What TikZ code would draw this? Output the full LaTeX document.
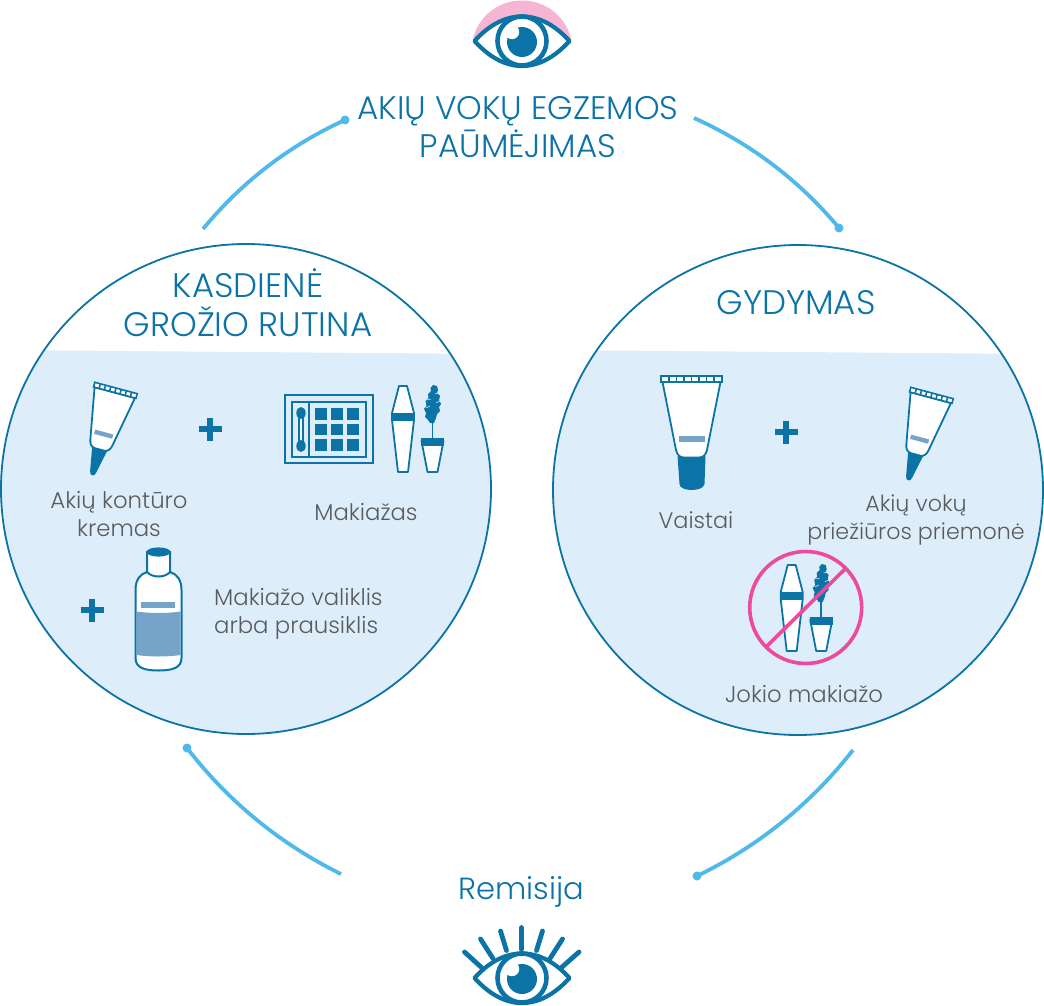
\documentclass[tikz,border=0pt]{standalone}
\usepackage{fontspec}
\setmainfont{Poppins Light}
\definecolor{dblue}{HTML}{0B73A6}
\definecolor{arcblue}{HTML}{4FB9EA}
\definecolor{pale}{HTML}{DDEEFA}
\definecolor{midb}{HTML}{76A3C9}
\definecolor{txtg}{HTML}{5A5B5E}
\definecolor{pinkl}{HTML}{F6B6D3}
\definecolor{pinkd}{HTML}{EC4B9B}
\tikzset{
  big/.style={draw=dblue,line width=1.8pt},
  arcline/.style={draw=arcblue,line width=3.8pt},
  dot/.style={circle,fill=arcblue,inner sep=0pt,minimum size=9pt},
  ttl/.style={text=dblue,font=\fontsize{32.6}{37.5}\selectfont,align=center,inner sep=0pt},
  ttlb/.style={text=dblue,font=\fontsize{34}{39}\selectfont,align=center,inner sep=0pt},
  lab/.style={text=txtg,font=\fontsize{22.8}{28}\selectfont,align=center,inner sep=0pt},
  lnk/.style={bend left=13,looseness=.87},
  tube/.pic={
    \fill[dblue] (-14,80) .. controls (-7,83) and (7,83) .. (14,80) -- (13,108) .. controls (12,116) and (-12,116) .. (-12,108) -- cycle;
    \draw[fill=white,draw=dblue,line width=1.8pt,line join=round] (-29,6) -- (-15.5,74) .. controls (-14,80) and (-11,81.5) .. (-7,81.5) -- (7,81.5) .. controls (11,81.5) and (14,80) .. (15.5,74) -- (29,6) -- cycle;
    \draw[fill=white,draw=dblue,line width=1.6pt] (-30.5,0) rectangle (30.5,6);
    \foreach \k in {-22.5,-15,-7.5,0,7.5,15,22.5} \draw[dblue,line width=1.6pt] (\k,0) -- (\k,6);
    \fill[midb] (-13,60) rectangle (13,65.5);
  },
  tubesmall/.pic={
    \fill[dblue] (-11,78) .. controls (-5,80) and (5,80) .. (11,78) -- (4,108) .. controls (3.5,115) and (-4.5,115) .. (-5,108) -- cycle;
    \draw[fill=white,draw=dblue,line width=1.8pt,line join=round] (-29,6) -- (-16,70) .. controls (-15,76) and (-12,79) .. (-7,79.5) -- (7,79.5) .. controls (12,79) and (15,76) .. (16,70) -- (29,6) -- cycle;
    \draw[fill=white,draw=dblue,line width=1.6pt] (-30.5,0) rectangle (30.5,6);
    \foreach \k in {-22.5,-15,-7.5,0,7.5,15,22.5} \draw[dblue,line width=1.6pt] (\k,0) -- (\k,6);
    \fill[midb] (-13,57) rectangle (13,62.5);
  },
  mascara/.pic={
    \draw[fill=white,draw=dblue,line width=1.8pt,line join=round] (-4,0) -- (4,0) -- (11,27) -- (11,34) -- (5,86) -- (-5,86) -- (-11,34) -- (-11,27) -- cycle;
    \fill[dblue] (-11.5,27) rectangle (11.5,34.5);
    \fill[dblue] (30,-1) -- (34,0) -- (35,4) -- (34,7) -- (37,10) -- (36,14) -- (38,18) -- (36,21) -- (37,25) -- (34,28) -- (33,32) -- (31,37) -- (27,37) -- (25,34) -- (22,31) -- (23,27) -- (21,23) -- (23.5,20) -- (22.5,15) -- (25.5,12) -- (25,8) -- (28,5) -- (27.5,2) -- cycle;
    \draw[pale,line width=.5pt] (24,14) -- (28,13) (23,22) -- (27,20) (32,8) -- (35,7) (33,17) -- (37,15);
    \draw[dblue,line width=1.8pt] (29.5,30) -- (29.5,53);
    \draw[fill=white,draw=dblue,line width=1.8pt,line join=round] (18.5,55) -- (40.5,55) -- (34.5,86) -- (24.5,86) -- cycle;
    \fill[dblue] (18,52) rectangle (41,59.5);
  },
  eyeball/.pic={
    \draw[fill=white,draw=dblue,line width=4.2pt,line join=round] (-47.5,0) .. controls (-32,-17) and (-16,-24.5) .. (0,-24.5) .. controls (16,-24.5) and (32,-17) .. (47.5,0) .. controls (32,17) and (16,25) .. (0,25) .. controls (-16,25) and (-32,17) .. (-47.5,0) -- cycle;
    \draw[fill=white,draw=dblue,line width=4.6pt] (0,0) circle (24.5);
    \fill[dblue] (0,1) circle (15);
    \fill[white] (-10,-9) circle (7.2);
  },
  plussign/.pic={
    \draw[dblue,line width=6pt] (-11.5,0) -- (11.5,0) (0,-11.5) -- (0,11.5);
  }
}
\begin{document}
\begin{tikzpicture}[x=1pt,y=-1pt]
\useasboundingbox (0,0) rectangle (1044,1006);
% circles
\begin{scope}
\clip (246,489) circle (245);
\fill[pale] (0,350) -- (500,354) -- (500,740) -- (0,740) -- cycle;
\end{scope}
\begin{scope}
\clip (798,490) circle (245);
\fill[pale] (550,350) -- (1044,354) -- (1044,740) -- (550,740) -- cycle;
\end{scope}
\node[circle,big,minimum size=490pt,inner sep=0pt] (cl) at (246,489) {};
\node[circle,big,minimum size=490pt,inner sep=0pt] (cr) at (798,490) {};
% arcs
\coordinate (s1) at (203,229);
\node[dot] (d1) at (345,120) {};
\coordinate (s2) at (694,118);
\node[dot] (d2) at (839,228) {};
\coordinate (s3) at (853,750);
\node[dot] (d3) at (697,876) {};
\coordinate (s4) at (341,874);
\node[dot] (d4) at (187,748) {};
\draw[arcline] (s1) to[lnk] (d1.center);
\draw[arcline] (s2) to[lnk] (d2.center);
\draw[arcline] (s3) to[lnk] (d3.center);
\draw[arcline] (s4) to[lnk] (d4.center);
% top eye
\fill[pinkl] (473,38) .. controls (480,14) and (500,0.5) .. (522,0.5) .. controls (544,0.5) and (564,14) .. (571,38) -- cycle;
\pic at (522,41) {eyeball};
% bottom eye
\pic at (522,978) {eyeball};
\draw[dblue,line width=4.8pt,line cap=round]
  (464.5,952) -- (481.5,967.5) (480.5,939) -- (493,958.5) (500.5,931) -- (506.5,950.5)
  (521.5,927.5) -- (521.5,949.5) (542.5,931) -- (536.5,950.5) (562.5,939) -- (550,958.5) (579,952) -- (561.5,967.5);
% texts
\node[ttl] (t1) at (518,127) {AKIŲ VOKŲ EGZEMOS\\PAŪMĖJIMAS};
\node[ttlb] (t2) at (248,302.5) {KASDIENĖ\\GROŽIO RUTINA};
\node[ttlb] (t3) at (796,303) {GYDYMAS};
\node[ttl,font=\fontsize{30.6}{36}\selectfont] (t4) at (521,892) {Remisija};
\node[lab] (l1) at (119,514) {Akių kontūro\\kremas};
\node[lab] (l2) at (366,512.5) {Makiažas};
\node[lab,align=left,anchor=west] (l3) at (214,613.5) {Makiažo valiklis\\arba prausiklis};
\node[lab,font=\fontsize{22.4}{28}\selectfont] (l4) at (696,520) {Vaistai};
\node[lab,font=\fontsize{22.2}{28}\selectfont] (l5) at (916,520.5) {Akių vokų\\priežiūros priemonė};
\node[lab] (l6) at (804,694) {Jokio makiažo};
% icons left
\pic[shift={(116,388)},rotate=-15,xscale=.72,yscale=.8] {tubesmall};
\draw[dblue,line width=2pt,fill=none] (285,395) rectangle (373,463);
\draw[dblue,line width=2pt,fill=none] (292,402) rectangle (366,456.5);
\draw[dblue,line width=2pt] (309,402) -- (309,456.5);
\foreach \cx in {315,331,347} \foreach \cy in {408,423.5,439} \fill[dblue] (\cx,\cy) rectangle +(12,11.7);
\fill[white] (299,414) rectangle (303,446);
\draw[dblue,line width=1.2pt] (299,414) -- (299,446) (303,414) -- (303,446);
\fill[dblue] (301,413) ellipse (4.7 and 6);
\fill[dblue] (301,446) ellipse (4.7 and 6);
\pic at (403,386) {mascara};
\pic at (210,429) {plussign};
\pic at (92,610) {plussign};
% bottle
\draw[fill=white,draw=dblue,line width=2pt] (147,552) -- (147,572) .. controls (140,574) and (135.5,580) .. (135.5,590) -- (135.5,658) .. controls (135.5,668) and (145,670.5) .. (158.5,670.5) .. controls (172,670.5) and (181.5,668) .. (181.5,658) -- (181.5,590) .. controls (181.5,580) and (177,574) .. (170,572) -- (170,552) -- cycle;
\draw[dblue,line width=2pt] (147,572) .. controls (152,578) and (165,578) .. (170,572);
\fill[dblue] (158.5,552) ellipse (12 and 4.6);
\fill[midb] (141,602) rectangle (175,608);
\fill[midb] (136.5,611.5) .. controls (150,613.5) and (167,613.5) .. (180.5,611.5) -- (180.5,655) .. controls (167,657) and (150,657) .. (136.5,655) -- cycle;
% icons right
\pic[shift={(691.5,376)}] {tube};
\pic[shift={(932,393)},rotate=-15,xscale=.72,yscale=.8] {tubesmall};
\pic at (786,432) {plussign};
\pic at (791.7,565) {mascara};
\node[circle,draw=pinkd,line width=3.6pt,minimum size=112pt,inner sep=0pt] (no) at (805.7,607.5) {};
\coordinate (na) at (766,647);
\coordinate (nb) at (845,569);
\draw[pinkd,line width=3.6pt] (na) -- (nb);
\end{tikzpicture}
\end{document}
